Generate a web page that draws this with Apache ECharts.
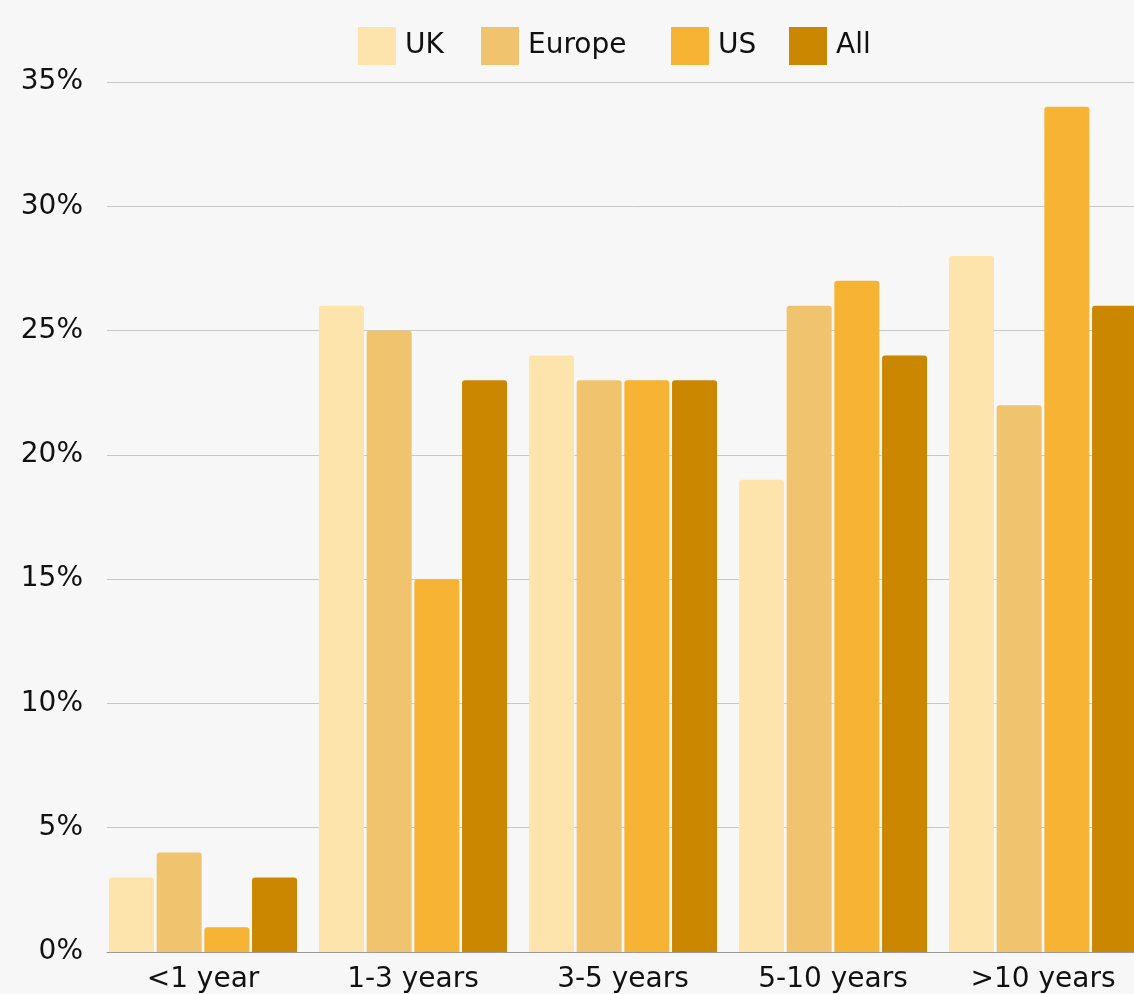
<!DOCTYPE html>
<html>
<head>
<meta charset="utf-8">
<script src="https://cdn.jsdelivr.net/npm/echarts@6/dist/echarts.min.js"></script>
<style>
  html, body { margin: 0; padding: 0; overflow: hidden; background: #f7f7f7; }
  #chart { width: 1160px; height: 994px; }
</style>
</head>
<body>
<div id="chart"></div>
<script>
// tenure buckets
const categories = ['<1 year', '1-3 years', '3-5 years', '5-10 years', '>10 years'];
const ukData = [3, 26, 24, 19, 28];
const europeData = [4, 25, 23, 26, 22];
const usData = [1, 15, 23, 27, 34];
const allData = [3, 23, 23, 24, 26];

const seriesNames = ['UK', 'Europe', 'US', 'All'];
const colors = ['#fde3ac', '#f0c46e', '#f6b334', '#cb8700'];
const legendLeft = [358, 481, 671, 789];
const font = 'DejaVu Sans';

const chart = echarts.init(document.getElementById('chart'));

const mkSeries = (name, data) => ({
  name: name,
  type: 'bar',
  data: data,
  xAxisIndex: 0,
  yAxisIndex: 0,
  barWidth: 45,
  barGap: '6%',
  itemStyle: { borderRadius: [3, 3, 0, 0] }
});

// one legend per item so the items sit where the original puts them
const legends = seriesNames.map((n, i) => ({
  top: 27,
  left: legendLeft[i],
  padding: 0,
  itemWidth: 38,
  itemHeight: 38,
  icon: 'rect',
  textStyle: { fontFamily: font, fontSize: 28, color: '#111', padding: [0, 0, 0, 4] },
  data: [n]
}));

chart.setOption({
  backgroundColor: '#f7f7f7',
  color: colors,
  animation: false,
  legend: legends,
  grid: [
    // bars
    { left: 98, right: 12, top: 82, bottom: 42 },
    // gridlines, y labels, baseline
    { left: 107, right: 0, top: 82, bottom: 42 }
  ],
  xAxis: [
    {
      type: 'category',
      gridIndex: 0,
      data: categories,
      axisTick: { show: false },
      axisLine: { show: false },
      axisLabel: { fontFamily: font, fontSize: 28, color: '#111', margin: 14, interval: 0 }
    },
    {
      type: 'category',
      gridIndex: 1,
      data: categories,
      axisTick: { show: false },
      axisLabel: { show: false },
      axisLine: { lineStyle: { color: '#9a9a9a', width: 1 } }
    }
  ],
  yAxis: [
    {
      type: 'value',
      gridIndex: 0,
      min: 0,
      max: 35,
      interval: 5,
      show: false
    },
    {
      type: 'value',
      gridIndex: 1,
      min: 0,
      max: 35,
      interval: 5,
      axisLine: { show: false },
      axisTick: { show: false },
      splitLine: { lineStyle: { color: '#c8c8c8', width: 1 } },
      axisLabel: { fontFamily: font, fontSize: 28, color: '#111', margin: 24, formatter: '{value}%' }
    }
  ],
  series: [
    mkSeries('UK', ukData),
    mkSeries('Europe', europeData),
    mkSeries('US', usData),
    mkSeries('All', allData)
  ]
});
</script>
</body>
</html>
